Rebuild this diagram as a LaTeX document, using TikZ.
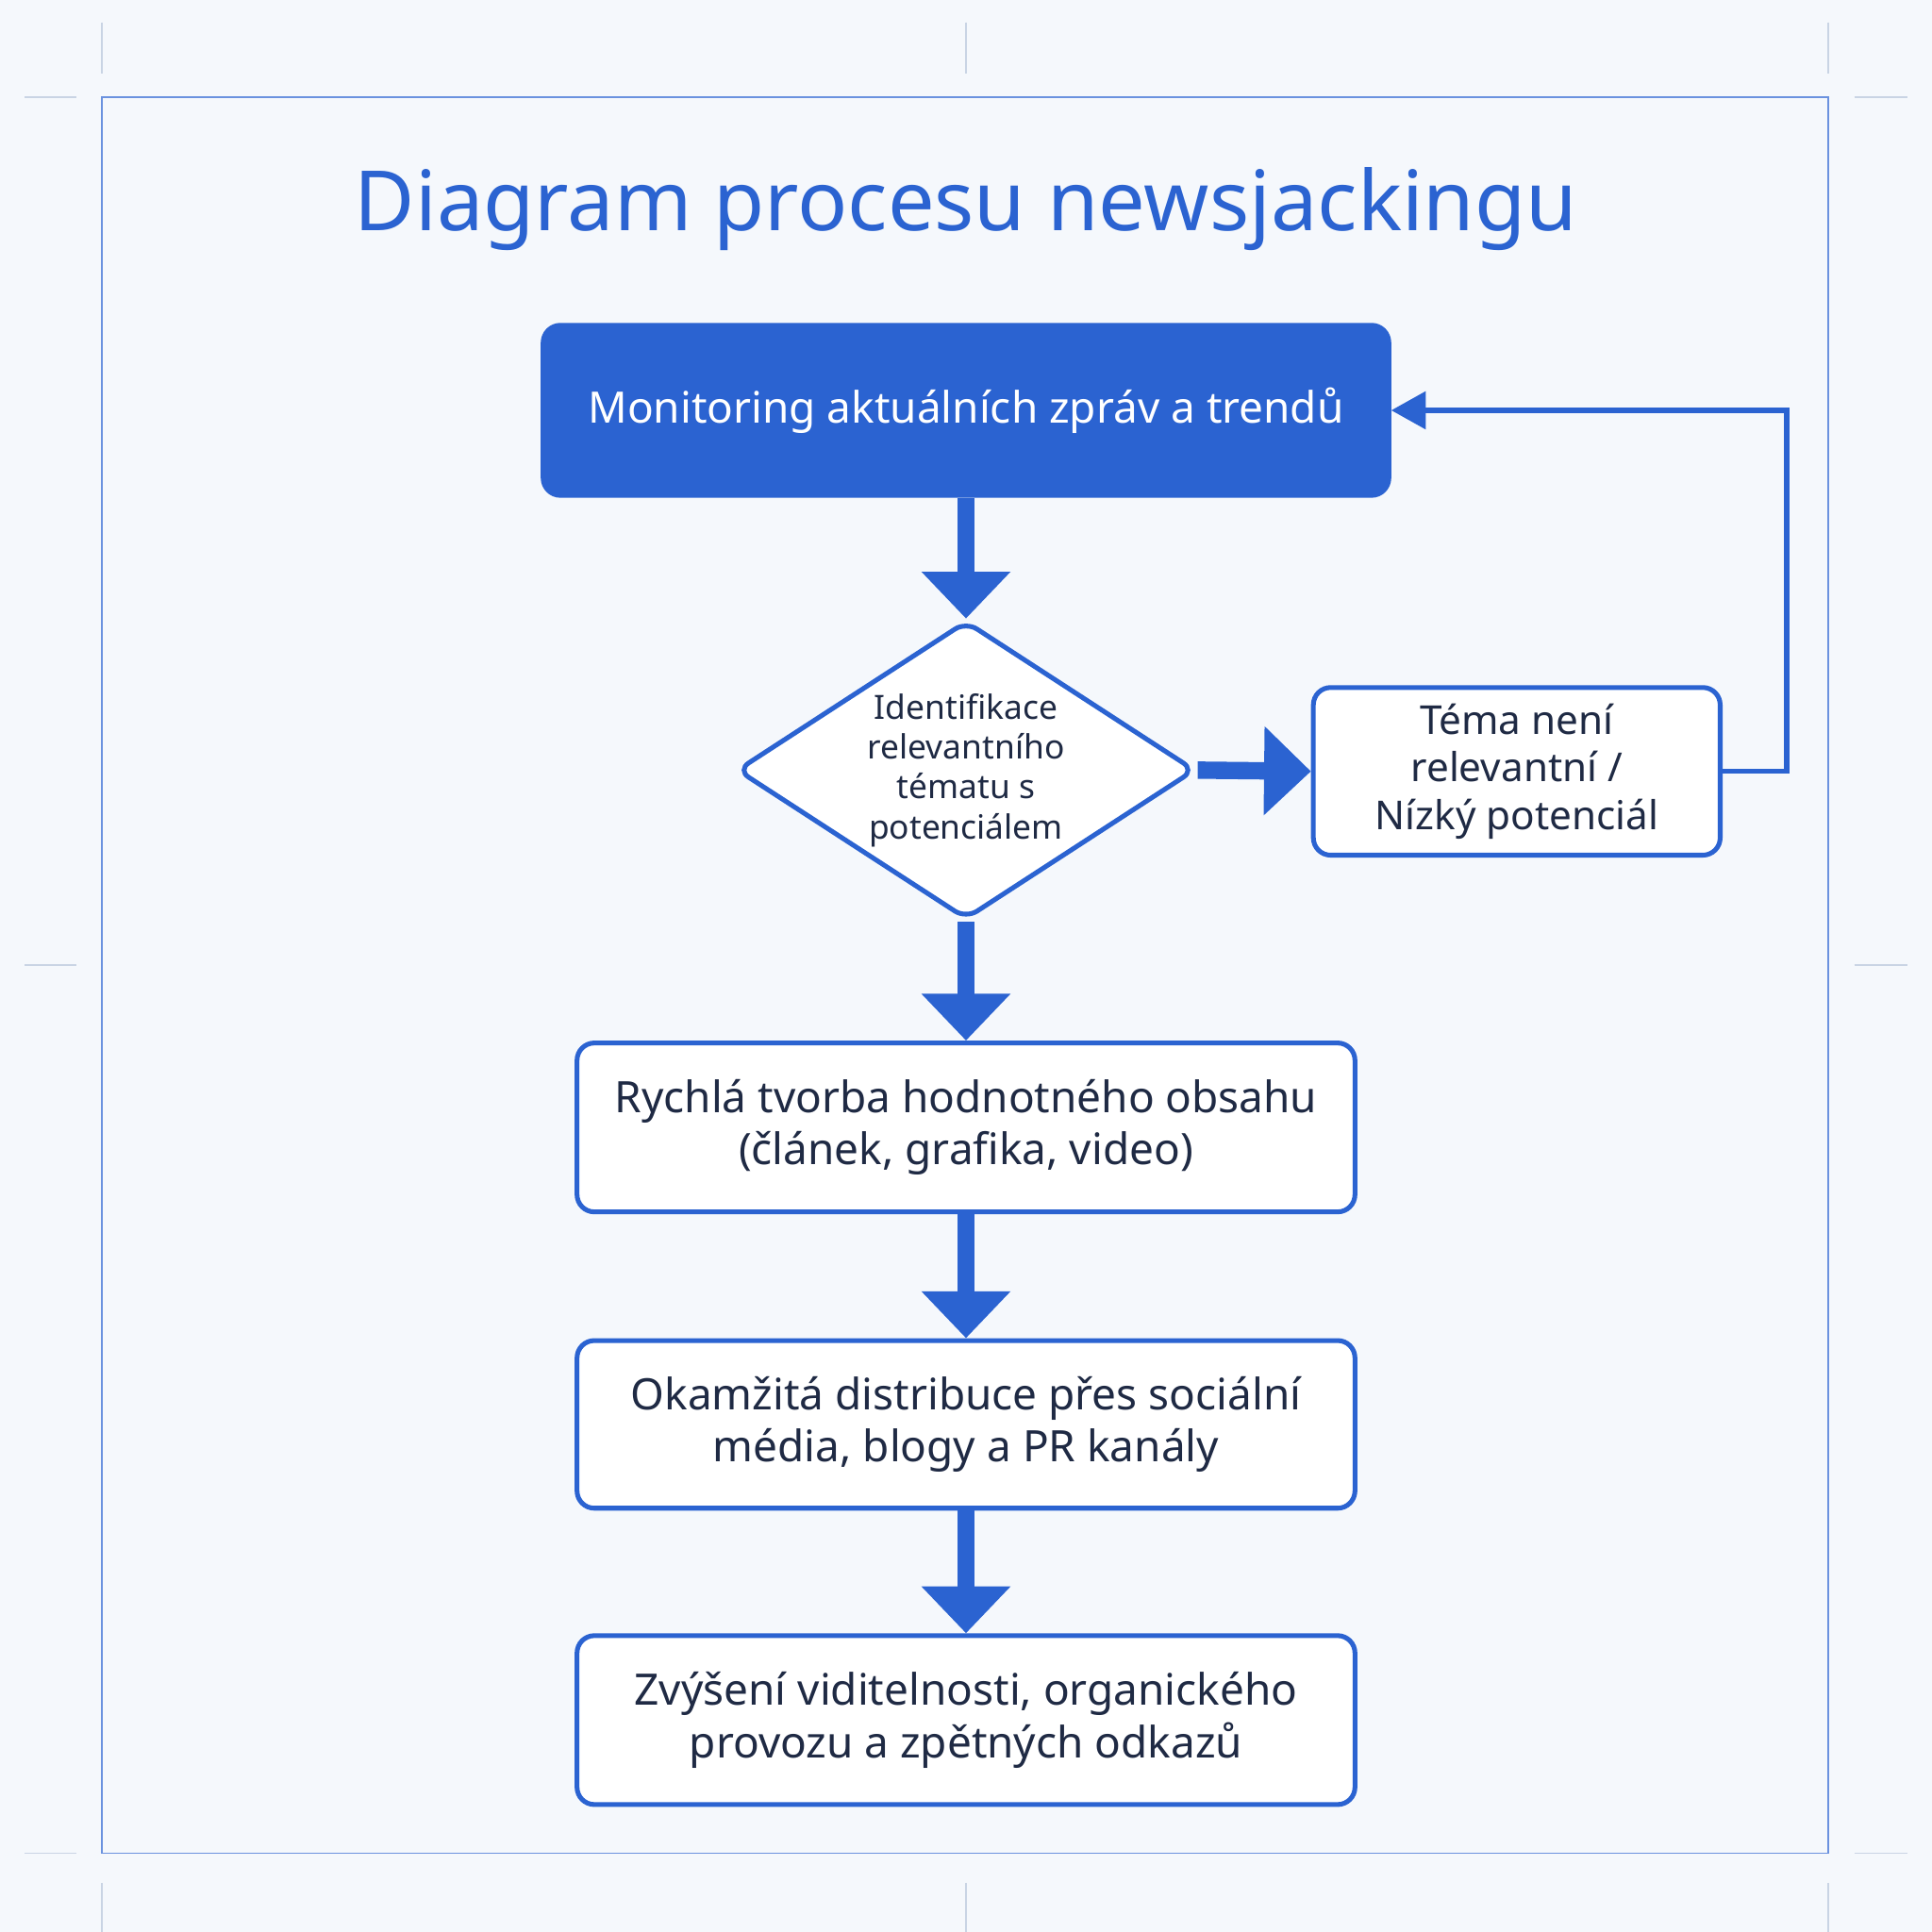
\documentclass[tikz,border=0pt]{standalone}
\usepackage{fontspec}
\setmainfont{Noto Sans}
\usetikzlibrary{arrows.meta,shapes.geometric}
\definecolor{bl}{HTML}{2B63D1}
\definecolor{txt}{HTML}{1F2A44}
\definecolor{bg}{HTML}{F5F8FC}
\definecolor{cropcol}{HTML}{C9D4E4}
\begin{document}
\begin{tikzpicture}[x=0.01cm,y=-0.01cm,
  box/.style={draw=bl,line width=1.1pt,rounded corners=4pt,fill=white,text=txt,align=center,inner sep=0pt},
  bigarrow/.style={draw=bl,line width=4pt,-{Triangle[width=0.7cm,length=0.38cm]}},
  thinarrow/.style={draw=bl,line width=1.2pt,-{Triangle[width=0.3cm,length=0.28cm]}}]
\useasboundingbox (0,0) rectangle (1568,1568);
\fill[bg] (0,0) rectangle (1568,1568);
\draw[bl!70,line width=0.4pt] (83,79) rectangle (1484,1504);
\foreach \x in {83,784,1484}{\draw[cropcol,line width=0.4pt] (\x,18)--(\x,60); \draw[cropcol,line width=0.4pt] (\x,1528)--(\x,1568);}
\foreach \y in {79,783,1504}{\draw[cropcol,line width=0.4pt] (20,\y)--(62,\y); \draw[cropcol,line width=0.4pt] (1505,\y)--(1548,\y);}
\node[text=bl,font=\fontsize{19.2}{23}\selectfont] (title) at (784,170) {Diagram procesu newsjackingu};
\node[box,fill=bl,text=white,minimum width=6.86cm,minimum height=1.38cm,font=\fontsize{10}{13}\selectfont] (b1) at (784,333) {Monitoring aktuálních zpráv a trendů};
\node[draw=bl,line width=1.1pt,fill=white,diamond,aspect=1.54,minimum width=3.72cm,minimum height=2.42cm,inner sep=0pt,text=txt,align=center,font=\fontsize{7.7}{9.2}\selectfont,rounded corners=3pt] (d) at (784,625) {Identifikace\\relevantního\\tématu s\\potenciálem};
\node[box,minimum width=3.3cm,minimum height=1.36cm,font=\fontsize{9.2}{11}\selectfont] (r) at (1231,626) {Téma není\\relevantní /\\Nízký potenciál};
\node[box,minimum width=6.31cm,minimum height=1.37cm,font=\fontsize{10}{12}\selectfont] (b3) at (784,915) {Rychlá tvorba hodnotného obsahu\\(článek, grafika, video)};
\node[box,minimum width=6.31cm,minimum height=1.36cm,font=\fontsize{10}{12}\selectfont] (b4) at (784,1156) {Okamžitá distribuce přes sociální\\média, blogy a PR kanály};
\node[box,minimum width=6.31cm,minimum height=1.37cm,font=\fontsize{10}{12}\selectfont] (b5) at (784,1396) {Zvýšení viditelnosti, organického\\provozu a zpětných odkazů};
\draw[bigarrow] (b1.south) -- (d.north);
\draw[bigarrow] (d.east) -- (r.west);
\draw[bigarrow] (d.south) -- (b3.north);
\draw[bigarrow] (b3.south) -- (b4.north);
\draw[bigarrow] (b4.south) -- (b5.north);
\coordinate (c1) at (1450,626);
\coordinate (c2) at (1450,333);
\draw[thinarrow] (r.east) -- (c1) -- (c2) -- (b1.east);
\end{tikzpicture}
\end{document}
